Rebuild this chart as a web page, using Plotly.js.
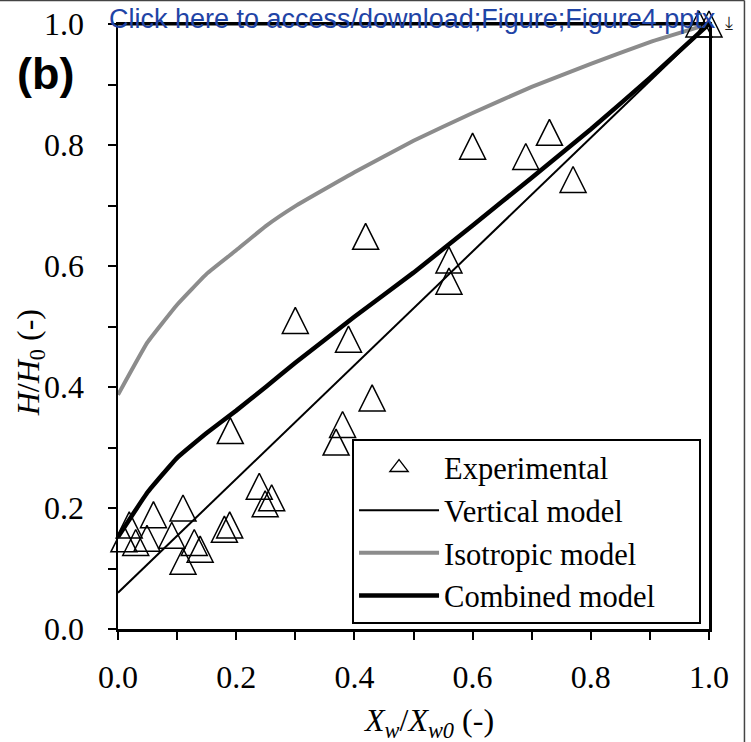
<!DOCTYPE html>
<html>
<head>
<meta charset="utf-8">
<script src="https://cdn.plot.ly/plotly-3.0.1.min.js"></script>
<style>
html,body{margin:0;padding:0;background:#ffffff;}
#chart{width:751px;height:742px;}
</style>
</head>
<body>
<div id="chart"></div>
<script>
// Experimental points (X_w/X_w0, H/H0)
const expX = [0.010, 0.019, 0.030, 0.049, 0.060, 0.091, 0.110, 0.110, 0.129, 0.139,
              0.180, 0.189, 0.190, 0.239, 0.249, 0.260, 0.300, 0.369, 0.380, 0.390,
              0.419, 0.430, 0.560, 0.560, 0.600, 0.690, 0.730, 0.770, 0.983, 1.000];
const expY = [0.149, 0.172, 0.143, 0.150, 0.189, 0.155, 0.200, 0.112, 0.143, 0.132,
              0.165, 0.172, 0.328, 0.236, 0.207, 0.217, 0.510, 0.309, 0.338, 0.479,
              0.649, 0.382, 0.610, 0.575, 0.798, 0.781, 0.821, 0.743, 1.000, 1.000];

// Vertical model
const vertX = [0.0, 1.0];
const vertY = [0.06, 1.0];

// Isotropic model
const isoX = [0.0, 0.05, 0.1, 0.15, 0.2, 0.25, 0.3, 0.4, 0.5, 0.6, 0.7, 0.8, 0.9, 1.0];
const isoY = [0.387, 0.474, 0.536, 0.587, 0.626, 0.666, 0.699, 0.755, 0.807, 0.853, 0.896, 0.934, 0.970, 1.0];

// Combined model
const combX = [0.0, 0.05, 0.1, 0.15, 0.2, 0.25, 0.3, 0.4, 0.5, 0.6, 0.7, 0.8, 0.9, 1.0];
const combY = [0.152, 0.226, 0.283, 0.324, 0.361, 0.400, 0.440, 0.516, 0.589, 0.667, 0.746, 0.826, 0.911, 1.0];

// Tick labels
const tickVals = [0.0, 0.2, 0.4, 0.6, 0.8, 1.0];
const tickText = ['0.0', '0.2', '0.4', '0.6', '0.8', '1.0'];

// Legend names
const seriesNames = ['Experimental', 'Vertical model', 'Isotropic model', 'Combined model'];

const serif = 'Liberation Serif, Times New Roman, serif';
const sans = 'Liberation Sans, Arial, sans-serif';
const pad = '\u00a0\u00a0\u00a0\u00a0\u00a0';

const traces = [
  {
    x: isoX, y: isoY, type: 'scatter', mode: 'lines',
    name: seriesNames[2], legendrank: 3,
    line: {color: '#8c8c8c', width: 4, shape: 'spline', smoothing: 0.3}
  },
  {
    x: vertX, y: vertY, type: 'scatter', mode: 'lines',
    name: seriesNames[1], legendrank: 2,
    line: {color: '#000000', width: 2}
  },
  {
    x: combX, y: combY, type: 'scatter', mode: 'lines',
    name: seriesNames[3] + pad, legendrank: 4,
    line: {color: '#000000', width: 4.5, shape: 'spline', smoothing: 0.3}
  },
  {
    x: expX, y: expY, type: 'scatter', mode: 'markers',
    name: seriesNames[0], showlegend: false, cliponaxis: false,
    marker: {symbol: 'arrow-down-open', angle: 180, standoff: 13, size: 26,
             color: '#000000', line: {color: '#000000', width: 1.5}}
  },
  {
    x: [null], y: [null], type: 'scatter', mode: 'markers',
    name: seriesNames[0], legendrank: 1,
    marker: {symbol: 'triangle-up-open', size: 16, color: '#000000',
             line: {color: '#000000', width: 1.3}}
  }
];

const axisCommon = {
  range: [0, 1],
  tickvals: tickVals, ticktext: tickText,
  ticks: 'outside', ticklen: 8, tickwidth: 2, tickcolor: '#000',
  minor: {dtick: 0.1, tick0: 0, ticks: 'outside', ticklen: 8, tickwidth: 2, tickcolor: '#000'},
  showline: true, linecolor: '#000', linewidth: 2.5, mirror: true,
  showgrid: false, zeroline: false,
  tickfont: {family: serif, size: 32, color: '#000'}
};

const layout = {
  width: 751, height: 742,
  margin: {l: 118, r: 42, t: 24, b: 113, pad: 0},
  paper_bgcolor: '#ffffff', plot_bgcolor: '#ffffff',
  showlegend: true,
  xaxis: Object.assign({}, axisCommon, {ticklabelstandoff: 10}),
  yaxis: Object.assign({}, axisCommon, {ticklabelstandoff: 17}),
  legend: {
    x: 0.396, xanchor: 'left', y: 0.008, yanchor: 'bottom',
    bgcolor: '#ffffff', bordercolor: '#000', borderwidth: 2,
    font: {family: serif, size: 30.5, color: '#000'},
    itemwidth: 80, traceorder: 'normal'
  },
  annotations: [
    {text: '<i>X<sub>w</sub></i>/<i>X<sub>w0</sub></i> (-)', xref: 'paper', yref: 'paper',
     x: 0.526, y: -0.155, xanchor: 'center', yanchor: 'middle', showarrow: false,
     font: {family: serif, size: 32, color: '#000'}},
    {text: '<i>H</i>/<i>H</i><sub>0</sub> (-)', xref: 'paper', yref: 'paper',
     x: -0.148, y: 0.44, xanchor: 'center', yanchor: 'middle', showarrow: false, textangle: -90,
     font: {family: serif, size: 32, color: '#000'}},
    {text: '<b>(b)</b>', xref: 'paper', yref: 'paper',
     x: -0.122, y: 0.918, xanchor: 'center', yanchor: 'middle', showarrow: false,
     font: {family: sans, size: 45, color: '#000'}},
    {text: 'Click here to access/download;Figure;Figure4.pptx', xref: 'paper', yref: 'paper',
     x: -0.019, y: 1.008, xanchor: 'left', yanchor: 'middle', showarrow: false,
     font: {family: sans, size: 27, color: '#1f44a6'}},
    {text: '\u2913', xref: 'paper', yref: 'paper',
     x: 1.033, y: 1.003, xanchor: 'center', yanchor: 'middle', showarrow: false,
     font: {family: 'DejaVu Sans', size: 18, color: '#222'}}
  ],
  shapes: [
    {type: 'line', xref: 'paper', yref: 'paper', x0: -0.2, x1: 1.06, y0: 1.0388, y1: 1.0388,
     line: {color: '#444', width: 1.5}},
    {type: 'line', xref: 'paper', yref: 'paper', x0: 1.06, x1: 1.06, y0: -0.19, y1: 1.0388,
     line: {color: '#444', width: 1.5}},
    {type: 'line', xref: 'paper', yref: 'paper', x0: 0, x1: 1, y0: 1, y1: 1,
     line: {color: '#000', width: 3}}
  ]
};

Plotly.newPlot('chart', traces, layout, {displayModeBar: false, staticPlot: true});
</script>
</body>
</html>
